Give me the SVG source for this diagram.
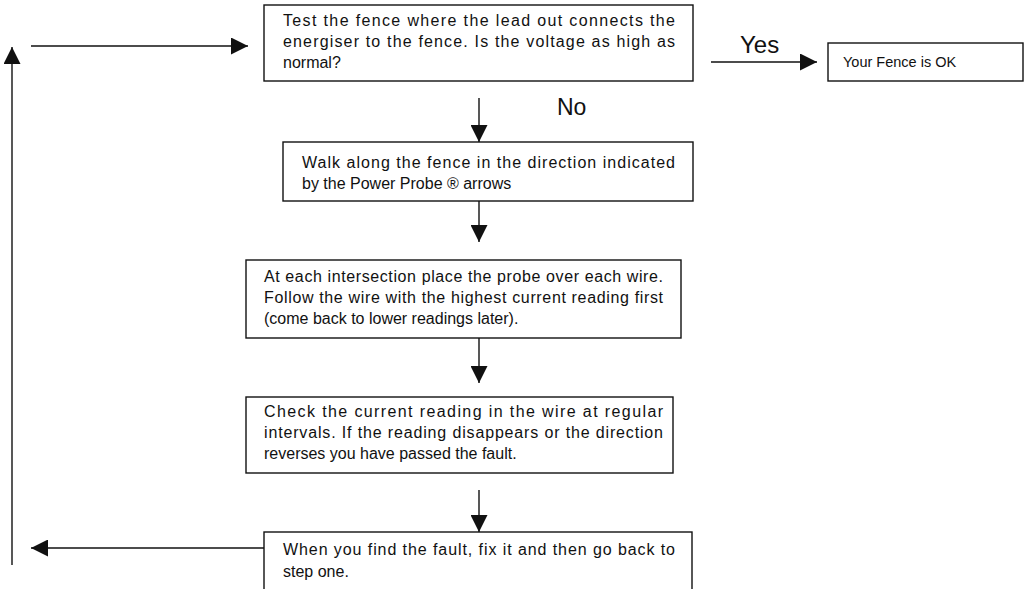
<svg xmlns="http://www.w3.org/2000/svg" width="1028" height="589" viewBox="0 0 1028 589">
<defs>
<style>
.box{fill:#fff;stroke:#111;stroke-width:1.4}
.t{font-family:"Liberation Sans",Arial,sans-serif;font-size:16px;fill:#111}
.lbl{font-family:"Liberation Sans",Arial,sans-serif;font-size:24px;fill:#111}
.c{stroke:#111;stroke-width:1.4;fill:none}
</style>
<marker id="ah" markerUnits="userSpaceOnUse" markerWidth="17" markerHeight="17" viewBox="0 0 17 17" refX="17" refY="8.5" orient="auto">
<path d="M0,0 L17,8.5 L0,17 Z" fill="#111"/>
</marker>
</defs>
<rect width="1028" height="589" fill="#fff"/>
<g id="connectors">
<path class="c" d="M31,46 H248" marker-end="url(#ah)"/>
<path class="c" d="M12,565 V47" marker-end="url(#ah)"/>
<path class="c" d="M264,548 H31" marker-end="url(#ah)"/>
<path class="c" d="M711,62 H817" marker-end="url(#ah)"/>
<path class="c" d="M479,98 V142" marker-end="url(#ah)"/>
<path class="c" d="M479,201 V242" marker-end="url(#ah)"/>
<path class="c" d="M479,338 V383" marker-end="url(#ah)"/>
<path class="c" d="M479,490 V532" marker-end="url(#ah)"/>
<text class="lbl" x="740" y="53">Yes</text>
<text class="lbl" x="557" y="115" style="font-size:23px">No</text>
</g>
<g id="n1">
<rect class="box" x="264" y="5" width="429" height="76"/>
<text class="t" x="283" y="26" textLength="392" lengthAdjust="spacing">Test the fence where the lead out connects the</text>
<text class="t" x="283" y="47" textLength="392" lengthAdjust="spacing">energiser to the fence. Is the voltage as high as</text>
<text class="t" x="283" y="68">normal?</text>
</g>
<g id="n_ok">
<rect class="box" x="828" y="43" width="195" height="38"/>
<text class="t" x="843" y="67" style="font-size:14.5px">Your Fence is OK</text>
</g>
<g id="n2">
<rect class="box" x="283" y="142" width="410" height="59"/>
<text class="t" x="302" y="168" textLength="373" lengthAdjust="spacing">Walk along the fence in the direction indicated</text>
<text class="t" x="302" y="189">by the Power Probe ® arrows</text>
</g>
<g id="n3">
<rect class="box" x="246" y="260" width="435" height="78"/>
<text class="t" x="264" y="282" textLength="399" lengthAdjust="spacing">At each intersection place the probe over each wire.</text>
<text class="t" x="264" y="303" textLength="399" lengthAdjust="spacing">Follow the wire with the highest current reading first</text>
<text class="t" x="264" y="324">(come back to lower readings later).</text>
</g>
<g id="n4">
<rect class="box" x="246" y="397" width="427" height="76"/>
<text class="t" x="264" y="417" textLength="399" lengthAdjust="spacing">Check the current reading in the wire at regular</text>
<text class="t" x="264" y="438" textLength="399" lengthAdjust="spacing">intervals. If the reading disappears or the direction</text>
<text class="t" x="264" y="459">reverses you have passed the fault.</text>
</g>
<g id="n5">
<rect class="box" x="264" y="532" width="428" height="70"/>
<text class="t" x="283" y="555" textLength="392" lengthAdjust="spacing">When you find the fault, fix it and then go back to</text>
<text class="t" x="283" y="577">step one.</text>
</g>
</svg>
